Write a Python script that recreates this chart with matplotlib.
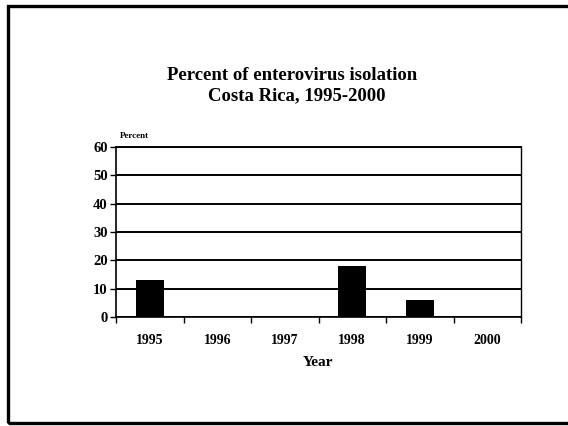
import matplotlib
matplotlib.use("Agg")
import matplotlib.pyplot as plt
from matplotlib.patches import Rectangle

years = ["1995", "1996", "1997", "1998", "1999", "2000"]
percent = [13, 0, 0, 18, 6, 0]
yticks = [0, 10, 20, 30, 40, 50, 60]

plt.rcParams['font.family'] = ['Liberation Serif', 'DejaVu Serif']

fig = plt.figure(figsize=(5.68, 4.26), dpi=100)
fig.patch.set_facecolor('white')

# outer frame
fig.add_artist(Rectangle((8/568, 3/426), 565/568, 417/426, transform=fig.transFigure,
                         fill=False, edgecolor='black', linewidth=2.4))

ax = fig.add_axes([116/568, 1 - 317/426, 405/568, 170/426])
x = list(range(len(years)))
ax.bar(x, percent, width=0.42, color='black', zorder=3)
ax.set_xlim(-0.5, len(years) - 0.5)
ax.set_ylim(0, 60)
ax.set_yticks(yticks)
ax.set_yticklabels([str(v) for v in yticks], fontsize=10.5, fontweight='bold')
ax.set_xticks(x)
ax.set_xticklabels(years, fontsize=10, fontweight='bold')
ax.tick_params(axis='x', length=0, pad=12)
ax.set_xticks([i - 0.5 for i in range(len(years) + 1)], minor=True)
ax.tick_params(axis='x', which='minor', length=4, width=1, direction='out')
ax.tick_params(axis='y', length=4, width=1, direction='out', pad=2)
ax.yaxis.grid(True, color='black', linewidth=1.4, zorder=1)
ax.set_axisbelow(True)
for s in ['left', 'bottom']:
    ax.spines[s].set_linewidth(1.2)
ax.spines['right'].set_linewidth(1.0)
ax.spines['top'].set_linewidth(1.4)
ax.set_xlabel('Year', fontsize=11, fontweight='bold', labelpad=7)

ax.text(0.01, 1.04, 'Percent', transform=ax.transAxes, fontsize=6.5, fontweight='bold',
        ha='left', va='bottom')

fig.text(292/568, 1 - 75/426, 'Percent of enterovirus isolation', ha='center', va='center',
         fontsize=13.5, fontweight='bold')
fig.text(297/568, 1 - 96/426, 'Costa Rica, 1995-2000', ha='center', va='center',
         fontsize=13.5, fontweight='bold')

fig.savefig('out.png', dpi=100, facecolor='white')
